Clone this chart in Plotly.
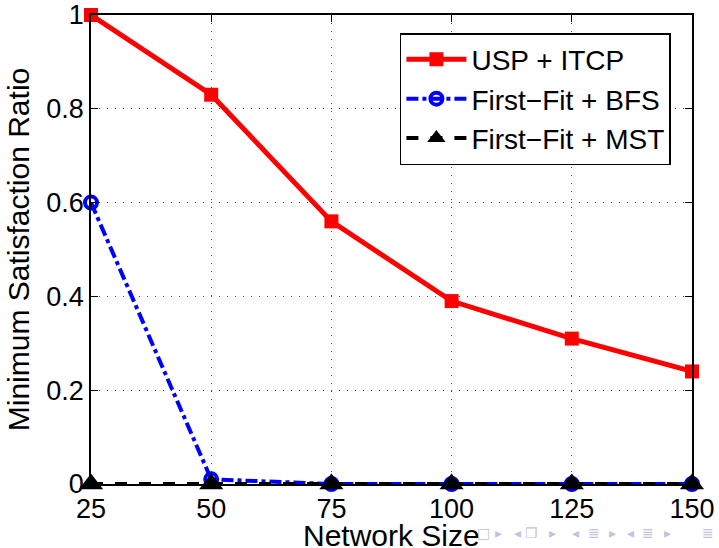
import plotly.graph_objects as go

network_size = [25, 50, 75, 100, 125, 150]
usp_itcp = [1.0, 0.83, 0.56, 0.39, 0.31, 0.24]
ff_bfs = [0.6, 0.01, 0.0, 0.0, 0.0, 0.0]
ff_mst = [0.0, 0.0, 0.0, 0.0, 0.0, 0.0]
x_ticks = [25, 50, 75, 100, 125, 150]
y_ticks = [0, 0.2, 0.4, 0.6, 0.8, 1]
y_tick_labels = ["0", "0.2", "0.4", "0.6", "0.8", "1"]

FONT = "Liberation Sans, Arial, Helvetica, sans-serif"

fig = go.Figure()
fig.add_trace(go.Scatter(
    x=network_size, y=usp_itcp, name="USP + ITCP", mode="lines+markers",
    line=dict(color="#ff0000", width=5),
    marker=dict(symbol="square", size=14, color="#ff0000"),
    cliponaxis=False))
fig.add_trace(go.Scatter(
    x=network_size, y=ff_bfs, name="First\u2212Fit + BFS", mode="lines+markers",
    line=dict(color="#0000ff", width=4, dash="dashdot"),
    marker=dict(symbol="circle-open", size=12, color="#0000ff", line=dict(width=4)),
    cliponaxis=False))
fig.add_trace(go.Scatter(
    x=network_size, y=ff_mst, name="First\u2212Fit + MST", mode="lines+markers",
    line=dict(color="black", width=4, dash="dash"),
    marker=dict(symbol="triangle-up", size=21, color="black"),
    cliponaxis=False))

tick_font = dict(size=27, color="black", family=FONT)
title_font = dict(size=30, color="black", family=FONT)
axis_common = dict(
    showline=True, linecolor="black", linewidth=1.8, mirror="ticks",
    ticks="inside", ticklen=7, tickcolor="black", tickwidth=1.2,
    showgrid=True, gridcolor="#444444", griddash="1px,7px", gridwidth=1,
    zeroline=False, tickfont=tick_font, automargin=False,
)
fig.update_xaxes(range=[25, 150], tickvals=x_ticks, ticklabelstandoff=0, **axis_common)
fig.update_yaxes(range=[0, 1], tickvals=y_ticks, ticktext=y_tick_labels, ticklabelstandoff=0,
                 title=dict(text="Minimum Satisfaction Ratio", font=title_font, standoff=8),
                 **axis_common)

# x-axis title placed as an annotation so it sits just below the tick labels
fig.add_annotation(x=0.5, y=(484 - 517) / 469, xref="paper", yref="paper",
                   xanchor="center", yanchor="top", text="Network Size", showarrow=False,
                   font=title_font)

# beamer navigation symbols (decoration)
nav_symbols = ["\u25a1", "\u25b8", "\u25c2", "\u2750", "\u25b8", "\u25c2", "\u2263", "\u25b8",
               "\u25c2", "\u2263", "\u25b8", "\u2263"]
nav_px = [483, 498, 517, 531, 552, 575, 594, 612, 630, 648, 667, 708]
for s, px in zip(nav_symbols, nav_px):
    fig.add_annotation(x=(px - 91) / 601, y=(484 - 533) / 469, xref="paper", yref="paper",
                       xanchor="center", yanchor="middle", text=s, showarrow=False,
                       font=dict(size=14, color="#c2c2de", family="DejaVu Sans"))

fig.update_layout(
    width=719, height=548, paper_bgcolor="white", plot_bgcolor="white",
    margin=dict(l=91, r=27, t=15, b=64, autoexpand=False),
    font=dict(family=FONT, color="black"),
    legend=dict(x=0.514, y=0.9615, xanchor="left", yanchor="top",
                bgcolor="white", bordercolor="black", borderwidth=1.5,
                font=dict(size=28, color="black", family=FONT),
                itemwidth=60, tracegroupgap=0, traceorder="normal"),
)
fig.write_html("out.html")
